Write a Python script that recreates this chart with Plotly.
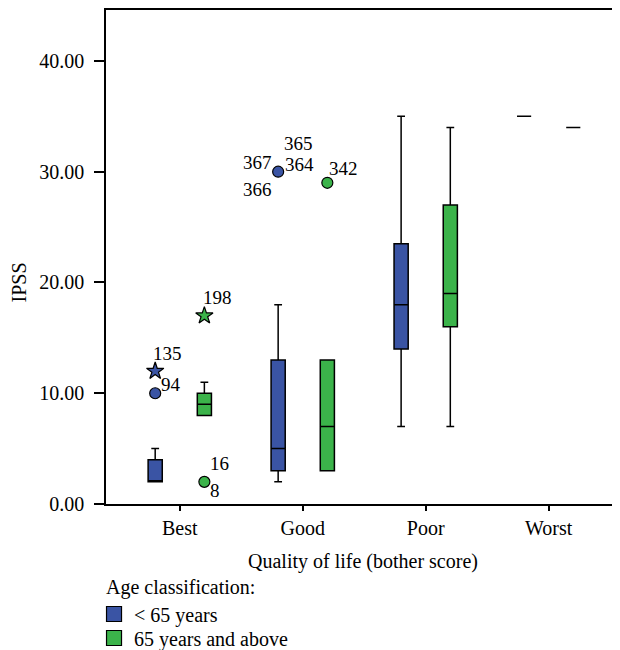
import plotly.graph_objects as go

# ---------------- data ----------------
categories = ["Best", "Good", "Poor", "Worst"]

# < 65 years
young_q1 = [2, 3, 14, 35]
young_median = [2, 5, 18, 35]
young_q3 = [4, 13, 23.5, 35]
young_low = [2, 2, 7, 35]
young_high = [5, 18, 35, 35]

# 65 years and above
old_q1 = [8, 3, 16, 34]
old_median = [9, 7, 19, 34]
old_q3 = [10, 13, 27, 34]
old_low = [8, 3, 7, 34]
old_high = [11, 13, 34, 34]

# outliers (category, value, symbol)
young_out_cat = ["Best", "Best", "Good"]
young_out_val = [12, 10, 30]
young_out_sym = ["star", "circle", "circle"]

old_out_cat = ["Best", "Best", "Good"]
old_out_val = [17, 2, 29]
old_out_sym = ["star", "circle", "circle"]

# case labels attached to outliers: (group, category, value, label, dx px, dy px)
outlier_labels = [
    ("young", "Best", 12, "135", 12, 18),
    ("young", "Best", 10, "94", 16, 9),
    ("old", "Best", 17, "198", 13, 18),
    ("old", "Best", 2, "16", 15, 18),
    ("old", "Best", 2, "8", 11, -9),
    ("young", "Good", 30, "365", 20, 28),
    ("young", "Good", 30, "367", -21, 9),
    ("young", "Good", 30, "364", 21, 7),
    ("young", "Good", 30, "366", -21, -18),
    ("old", "Good", 29, "342", 16, 14),
]

series_names = ["< 65 years", "65 years and above"]
legend_title = "Age classification:"
# ---------------------------------------

BLUE = "#3A54A4"
GREEN = "#3BB34A"
FONT = "Liberation Serif"
OFF = 0.2
BOXW = 0.115

idx = {c: i for i, c in enumerate(categories)}
shift = {"young": -OFF, "old": OFF}

fig = go.Figure()

for grp, color, q1, med, q3, lo, hi in [
    ("young", BLUE, young_q1, young_median, young_q3, young_low, young_high),
    ("old", GREEN, old_q1, old_median, old_q3, old_low, old_high),
]:
    xs = [i + shift[grp] for i in range(len(categories))]
    fig.add_trace(go.Box(
        x=xs, q1=q1, median=med, q3=q3, lowerfence=lo, upperfence=hi,
        width=BOXW, whiskerwidth=0.55,
        fillcolor=color, line=dict(color="black", width=1.5),
        boxpoints=False, showlegend=False, hoverinfo="skip",
    ))

for grp, color, cats, vals, syms in [
    ("young", BLUE, young_out_cat, young_out_val, young_out_sym),
    ("old", GREEN, old_out_cat, old_out_val, old_out_sym),
]:
    fig.add_trace(go.Scatter(
        x=[idx[c] + shift[grp] for c in cats], y=vals, mode="markers",
        marker=dict(symbol=syms, size=[13 if s == "star" else 11 for s in syms],
                    color=color, opacity=1, line=dict(color="black", width=1.2)),
        showlegend=False, hoverinfo="skip",
    ))

# legend entries, one legend each so their spacing can be matched
for name, color, leg in zip(series_names, [BLUE, GREEN], ["legend", "legend2"]):
    fig.add_trace(go.Scatter(
        x=[None], y=[None], mode="markers", name=name, legend=leg,
        marker=dict(symbol="square", size=15, color=color,
                    line=dict(color="black", width=1.2)),
    ))

annotations = []
for grp, cat, val, txt, dx, dy in outlier_labels:
    annotations.append(dict(
        x=idx[cat] + shift[grp], y=val, xref="x", yref="y", text=txt,
        showarrow=False, xshift=dx, yshift=dy,
        font=dict(family=FONT, size=19, color="black"),
    ))

annotations.append(dict(
    x=0, y=20, xref="paper", yref="y", text="IPSS", textangle=-90,
    showarrow=False, xshift=-87, xanchor="center", yanchor="middle",
    font=dict(family=FONT, size=20, color="black"),
))
annotations.append(dict(
    x=0, y=-0.170, xref="paper", yref="paper", text=legend_title,
    showarrow=False, xanchor="left", yanchor="middle", xshift=-2,
    font=dict(family=FONT, size=20, color="black"),
))

leg_common = dict(x=-0.0233, xanchor="left", yanchor="middle",
                  orientation="v", font=dict(family=FONT, size=20, color="black"),
                  bgcolor="rgba(0,0,0,0)")

fig.update_layout(
    width=612, height=642,
    margin=dict(l=98, r=0, t=2, b=146, autoexpand=False),
    paper_bgcolor="white", plot_bgcolor="white",
    font=dict(family=FONT, size=20, color="black"),
    boxmode="overlay",
    showlegend=True,
    legend=dict(y=-0.2227, **leg_common),
    legend2=dict(y=-0.2713, **leg_common),
    annotations=annotations,
    xaxis=dict(
        range=[-0.6, 3.58], tickmode="array",
        tickvals=list(range(len(categories))), ticktext=categories,
        showline=True, linecolor="black", linewidth=1.5, mirror=True,
        ticks="outside", ticklen=5, tickcolor="black", tickwidth=1.5,
        showgrid=False, zeroline=False, automargin=False,
        title=dict(text="Quality of life (bother score)", standoff=16,
                   font=dict(family=FONT, size=20)),
    ),
    yaxis=dict(
        range=[0, 44.6], tickmode="linear", tick0=0, dtick=10, tickformat=".2f",
        showline=True, linecolor="black", linewidth=1.5, mirror=False,
        ticks="outside", ticklen=10, tickcolor="black", tickwidth=1.5,
        showgrid=False, zeroline=False, ticklabelstandoff=6, automargin=False,
    ),
)

fig.write_html("out.html")
